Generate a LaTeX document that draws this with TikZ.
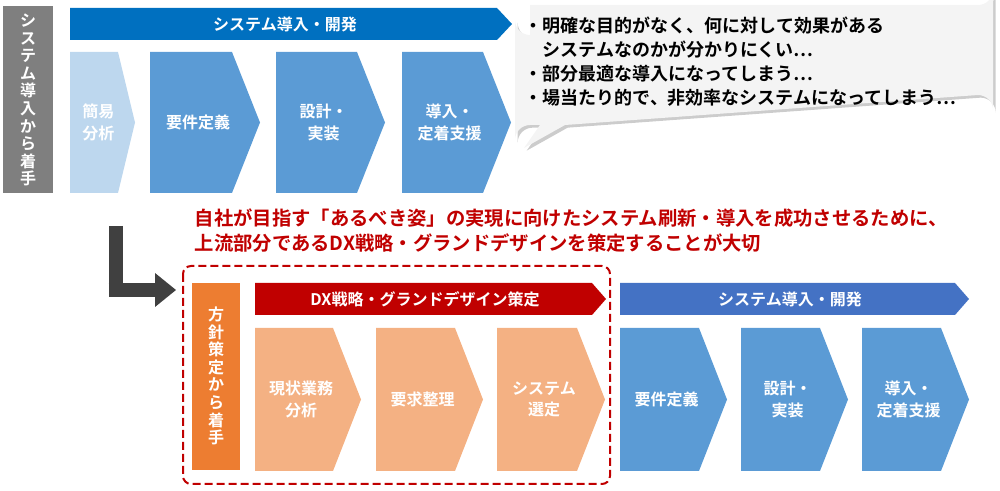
\documentclass[tikz,border=0pt]{standalone}
\usepackage{fontspec}
\setmainfont{Noto Sans CJK JP}[BoldFont={* Bold}]
\usetikzlibrary{shadows}
\definecolor{gbar}{HTML}{7F7F7F}
\definecolor{dblue}{HTML}{0070C0}
\definecolor{mblue}{HTML}{5B9BD5}
\definecolor{lblue}{HTML}{BDD7EE}
\definecolor{bblue}{HTML}{4472C4}
\definecolor{dred}{HTML}{C00000}
\definecolor{orng}{HTML}{ED7D31}
\definecolor{salm}{HTML}{F4B183}
\definecolor{bub}{HTML}{F4F4F4}
\tikzset{lbl/.style={text=white,font=\bfseries\fontsize{12}{16}\selectfont,align=center},
vlbl/.style={text=white,font=\bfseries\fontsize{12}{13.2}\selectfont,align=center}}
\newcommand{\chev}[7]{% name,x0,x1,depth,top,bot,color
\fill[#7] (#2,#5)--(#3,#5)--(#3+#4,{(#5+#6)/2})--(#3,#6)--(#2,#6)--cycle;
\coordinate (#1) at ({(#2+#3)/2+#4/4},{(#5+#6)/2});}
\begin{document}
\begin{tikzpicture}[x=0.75pt,y=-0.75pt]
\useasboundingbox (0,0) rectangle (1000,491);
% left gray bar
\fill[gbar] (3,6) rectangle (53,193);
\node[vlbl] (lt) at (28,100) {シ\\ス\\テ\\ム\\導\\入\\か\\ら\\着\\手};
% top banner
\fill[dblue] (70,8)--(497,8)--(512,24)--(497,40)--(70,40)--cycle;
\node[lbl] (tb) at (285,24) {システム導入・開発};
\chev{c1}{70}{118}{17}{52}{193}{lblue}
\node[lbl] (t1) at (c1) {簡易\\分析};
\chev{c2}{150}{232}{28}{52}{193}{mblue}
\node[lbl] (t2) at (c2) {要件定義};
\chev{c3}{276}{357}{28}{52}{193}{mblue}
\node[lbl] (t3) at (c3) {設計・\\実装};
\chev{c4}{402}{483}{28}{52}{193}{mblue}
\node[lbl] (t4) at (c4) {導入・\\定着支援};
% bubble
\fill[bub,drop shadow={shadow xshift=2pt,shadow yshift=-2pt,opacity=0.4}]
 (530,5) -- (978,5) arc (90:0:15) -- (993,110) arc (0:-90:15) -- (565,125) -- (524,148) -- (540,125) -- (530,125) arc (270:180:15) -- (515,20) arc (180:90:15) -- cycle;
\node[anchor=north west,align=left,font=\bfseries\fontsize{13.5}{18}\selectfont] (bt) at (520,12)
{・明確な目的がなく、何に対して効果がある\\\hspace{1em}システムなのかが分かりにくい…\\・部分最適な導入になってしまう…\\・場当たり的で、非効率なシステムになってしまう…};
% red message
\node[anchor=north west,align=left,text=dred,font=\bfseries\fontsize{14.5}{19}\selectfont] (rm) at (190,204)
{自社が目指す「あるべき姿」の実現に向けたシステム刷新・導入を成功させるために、\\上流部分であるDX戦略・グランドデザインを策定することが大切};
% L arrow
\coordinate (la) at (116,226);
\coordinate (lb) at (116,290);
\draw[line width=11pt,color=black!75] (la) -- ([yshift=5.5pt]lb) ;
\draw[line width=11pt,color=black!75] ([xshift=-5.5pt]lb) -- (155,290);
\fill[black!75] (155,273)--(176,290)--(155,307)--cycle;
% dashed box
\draw[dred,dash pattern=on 6pt off 3pt,line width=1.5pt,rounded corners=6pt] (183,266) rectangle (610,484);
\fill[orng] (192,283) rectangle (240,470);
\node[vlbl] (ot) at (216,376) {方\\針\\策\\定\\か\\ら\\着\\手};
\fill[dred] (255,283)--(592,283)--(606,299)--(592,315)--(255,315)--cycle;
\node[lbl] (rb) at (425,299) {DX戦略・グランドデザイン策定};
\fill[bblue] (620,283)--(955,283)--(969,299)--(955,315)--(620,315)--cycle;
\node[lbl] (bb) at (790,299) {システム導入・開発};
\chev{s1}{255}{333}{28}{328}{471}{salm}
\node[lbl] (u1) at (s1) {現状業務\\分析};
\chev{s2}{376}{455}{28}{328}{471}{salm}
\node[lbl] (u2) at (s2) {要求整理};
\chev{s3}{497}{577}{28}{328}{471}{salm}
\node[lbl] (u3) at (s3) {システム\\選定};
\chev{b1}{620}{699}{28}{328}{471}{mblue}
\node[lbl] (v1) at (b1) {要件定義};
\chev{b2}{741}{820}{28}{328}{471}{mblue}
\node[lbl] (v2) at (b2) {設計・\\実装};
\chev{b3}{862}{941}{28}{328}{471}{mblue}
\node[lbl] (v3) at (b3) {導入・\\定着支援};
\end{tikzpicture}
\end{document}
